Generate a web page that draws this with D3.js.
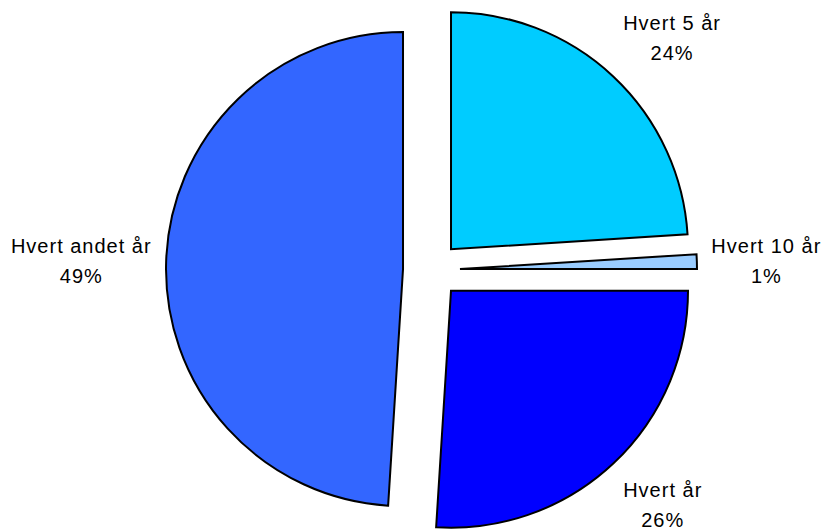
<!DOCTYPE html>
<html><head><meta charset="utf-8">
<script src="https://cdn.jsdelivr.net/npm/d3@7"></script>
<style>body{margin:0;background:#fff}svg{display:block}</style>
</head><body>
<svg id="chart" width="824" height="532"></svg>
<script>
const categories = ["Hvert 5 år", "Hvert 10 år", "Hvert år", "Hvert andet år"];
const values = [24, 1, 26, 49];
const colors = ["#00CCFF", "#99CCFF", "#0000FF", "#3366FF"];

const W = 824, H = 532, cx = 431.5, cy = 270, R = 237, explode = 28.5;
const svg = d3.select("#chart");
const total = d3.sum(values);
const pie = d3.pie().sort(null).value(d => d.v).startAngle(0).endAngle(2 * Math.PI);
const data = pie(categories.map((c, i) => ({c, v: values[i], col: colors[i]})));
const arc = d3.arc().innerRadius(0).outerRadius(R);

const g = svg.append("g").attr("transform", `translate(${cx},${cy})`);
g.selectAll("path").data(data).join("path")
  .attr("d", arc)
  .attr("fill", d => d.data.col)
  .attr("stroke", "#000").attr("stroke-width", 2).attr("stroke-linejoin", "miter")
  .attr("transform", d => {
    const a = (d.startAngle + d.endAngle) / 2;
    return `translate(${Math.sin(a) * explode},${-Math.cos(a) * explode})`;
  });

const fs = 20, lh = 30, Rl = 280;
const labels = g.selectAll("text.lbl").data(data).join("text")
  .attr("class", "lbl")
  .attr("font-family", "Liberation Sans, Arial, sans-serif")
  .attr("font-size", fs).attr("letter-spacing", 1)
  .attr("text-anchor", "middle").attr("fill", "#000");
labels.each(function(d) {
  const t = d3.select(this);
  t.append("tspan").attr("x", 0).attr("dy", 0).text(d.data.c);
  t.append("tspan").attr("x", 0).attr("dy", lh).text(Math.round(d.data.v / total * 100) + "%");
  const bb = this.getBBox();
  const a = (d.startAngle + d.endAngle) / 2;
  const s = Math.sin(a), c = -Math.cos(a);
  const x = s * Rl + (Math.abs(s) > 0.3 ? Math.sign(s) : 0) * bb.width / 2;
  const yoff = Math.abs(c) > 0.3 ? (c < 0 ? -28 : 31) : 0;
  const yc = c * Rl + yoff;
  const blockMid = (-0.72 * fs + lh) / 2;
  t.attr("transform", `translate(${x},${yc - blockMid})`);
});
</script>
</body></html>
